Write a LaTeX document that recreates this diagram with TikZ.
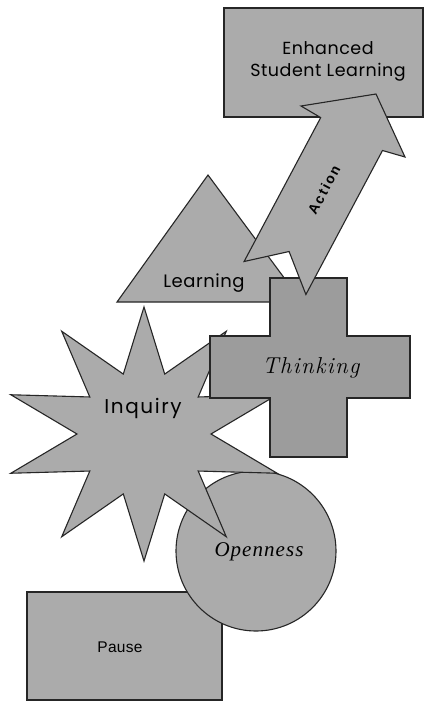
\documentclass[tikz,border=0pt]{standalone}
\usepackage{fontspec}
\setmainfont{Latin Modern Roman}
\newfontfamily\gothic[LetterSpace=3]{Poppins}
\newfontfamily\gothicsp[LetterSpace=8]{Poppins}
\newfontfamily\narrowsans[LetterSpace=2]{Liberation Sans}
\newfontfamily\boldsans[LetterSpace=14]{Liberation Sans}
\newfontfamily\opfont[LetterSpace=5]{Liberation Serif}
\newfontfamily\thfont[LetterSpace=6]{Latin Modern Roman}
\definecolor{shapegray}{gray}{0.67}
\definecolor{crossgray}{gray}{0.61}
\definecolor{edgegray}{gray}{0.15}
\tikzset{
  shp/.style={fill=shapegray, draw=edgegray, line width=1.1pt, line join=miter},
  darkshp/.style={shp, fill=crossgray},
  lbl/.style={inner sep=0pt, text=black},
}
\begin{document}
\begin{tikzpicture}[x=1pt,y=-1pt]
\useasboundingbox (0,0) rectangle (427,702);
\fill[white] (0,0) rectangle (427,702);

% Pause rectangle
\draw[shp] (27,592) rectangle (222,700);
\node[lbl, font=\narrowsans\fontsize{15.5}{18}\selectfont] (pause) at (120,647) {Pause};

% Openness circle
\draw[shp] (256,551) circle[radius=80];
\node[lbl, font=\opfont\itshape\fontsize{21}{24}\selectfont] (open) at (259,552) {Openness};

% Inquiry star
\draw[shp] (144,307)
  \foreach \i [evaluate=\i as \rx using {mod(\i,2)==0?140:67},
               evaluate=\i as \ry using {mod(\i,2)==0?127:63}] in {1,...,19}
  { -- ({144+\rx*cos(90+18*\i)},{434-\ry*sin(90+18*\i)}) } -- cycle;
\node[lbl, font=\gothicsp\fontsize{20}{23}\selectfont] (inq) at (143,408) {Inquiry};

% Learning triangle
\draw[shp] (208,175) -- (302,302) -- (117,302) -- cycle;
\node[lbl, font=\gothic\fontsize{18}{21}\selectfont] (learn) at (204,283) {Learning};

% Thinking cross
\draw[darkshp] (270,278) -- (347,278) -- (347,336) -- (410,336) -- (410,398)
  -- (347,398) -- (347,457) -- (270,457) -- (270,398) -- (210,398)
  -- (210,336) -- (270,336) -- cycle;
\node[lbl, font=\thfont\itshape\fontsize{23}{26}\selectfont] (think) at (311,368) {Thinking};

% Enhanced Student Learning rectangle
\draw[shp] (224,8) rectangle (423,117);
\node[lbl, align=center, font=\gothic\fontsize{17.5}{22}\selectfont] (esl) at (328,61) {Enhanced\\Student Learning};

% Action arrow (notched)
\coordinate (tl) at (244.1,261.5);
\coordinate (nt) at (289.1,251.5);
\coordinate (tr) at (305.9,294.5);
\coordinate (sr) at (382.5,150.5);
\coordinate (br) at (405,157);
\coordinate (tip) at (376,94);
\coordinate (bl) at (301,106);
\coordinate (sl) at (320.7,117.6);
\draw[shp] (tl) -- (nt) -- (tr) -- (sr) -- (br) -- (tip) -- (bl) -- (sl) -- cycle;
\node[lbl, rotate=62, font=\boldsans\bfseries\fontsize{14}{16}\selectfont] (act) at (324,190) {Action};
\end{tikzpicture}
\end{document}
